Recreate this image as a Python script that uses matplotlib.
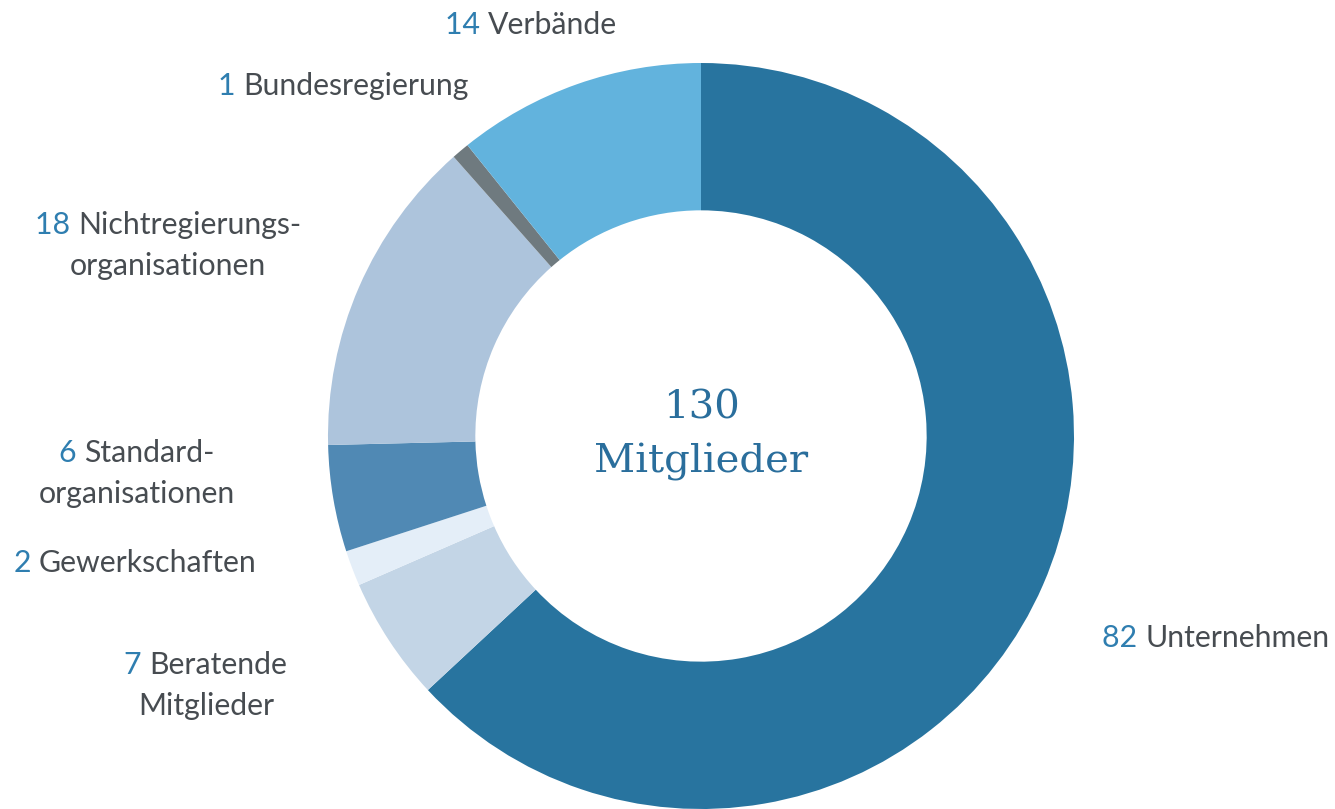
import matplotlib.pyplot as plt

# ---------- Daten ----------
kategorien = ["Unternehmen", "Beratende\nMitglieder", "Gewerkschaften",
              "Standard-\norganisationen", "Nichtregierungs-\norganisationen",
              "Bundesregierung", "Verbände"]
anzahl = [82, 7, 2, 6, 18, 1, 14]
farben = ["#28749f", "#c3d5e6", "#e4eef8", "#5089b4", "#adc4dc", "#6f7a7f", "#62b3dd"]

# Label-Positionen in Pixeln (x-Mitte, y von oben)
label_pos = [(1216, 638), (206, 685), (135, 563), (137, 473), (168, 245), (343, 86), (531, 25)]

BLAU = "#2f7eb0"
GRAU = "#474c51"
FS = 21.8

fig = plt.figure(figsize=(13.35, 8.09), dpi=100)
ax = fig.add_axes([0, 0, 1, 1])

ax.pie(anzahl, colors=farben, startangle=90, counterclock=False,
       center=(701, 809 - 436), radius=373,
       wedgeprops=dict(width=373 * 0.395, linewidth=0))

ax.set_xlim(0, 1335)
ax.set_ylim(0, 809)
ax.set_aspect("equal")
ax.axis("off")

# Mitte
ax.text(701, 809 - 408, "130", ha="center", va="center", fontsize=29,
        color="#2a6e9c", family="DejaVu Serif")
ax.text(701, 809 - 462, "Mitglieder", ha="center", va="center", fontsize=29,
        color="#2a6e9c", family="DejaVu Serif")

# Labels: Zahl blau, Text grau
fig.canvas.draw()
r = fig.canvas.get_renderer()
for name, n, (x, y) in zip(kategorien, anzahl, label_pos):
    zeilen = name.split("\n")
    lh = 41
    y0 = y - (len(zeilen) - 1) * lh / 2
    for i, z in enumerate(zeilen):
        yy = 809 - (y0 + i * lh)
        if i == 0:
            t1 = ax.text(0, yy, f"{n} ", fontsize=FS, color=BLAU, family="Lato",
                         va="center")
            t2 = ax.text(0, yy, z, fontsize=FS, color=GRAU, family="Lato",
                         va="center")
            w1 = t1.get_window_extent(r).width
            w2 = t2.get_window_extent(r).width
            start = x - (w1 + w2) / 2
            t1.set_x(start)
            t2.set_x(start + w1)
        else:
            ax.text(x, yy, z, fontsize=FS, color=GRAU, family="Lato",
                    ha="center", va="center")

plt.savefig("out.png", dpi=100)
